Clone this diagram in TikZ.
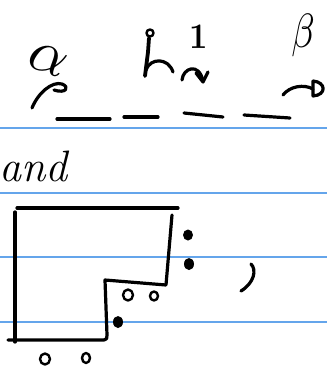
\documentclass[tikz,border=0pt]{standalone}
\definecolor{ruleblue}{RGB}{100,165,235}
\begin{document}
\begin{tikzpicture}[x=1pt,y=-1pt,
  ink/.style={line width=3.2pt,line cap=round,line join=round},
  thinink/.style={line width=2.4pt,line cap=round,line join=round},
  rule/.style={draw=ruleblue,line width=1.3pt},
  hand/.style={inner sep=0pt,outer sep=0pt}]
\useasboundingbox (0,0) rectangle (327,381);
\fill[white] (0,0) rectangle (327,381);
% ruled lines
\foreach \y in {128,193,257,322} \draw[rule] (0,\y) -- (327,\y);
% top row: labels
\node[hand,rotate=-20] (alpha) at (48,60) {\scalebox{6}{$\alpha$}};
\node[hand] (one) at (199,37) {\scalebox{3.2}[3.6]{\bfseries 1}};
\node[hand] (beta) at (303,35) {\scalebox{3.8}[4.8]{$\beta$}};
% dashes
\draw[ink] (57,119) -- (110,119);
\draw[ink] (124,117) -- (158,117);
\draw[ink] (184,113) -- (223,117);
\draw[ink] (244,115) -- (290,118);
% arrow under alpha
\draw[ink] (32,108) .. controls (38,93) and (52,81) .. (62,84) .. controls (70,87) and (66,94) .. (54,90);
% middle: ring with stroke and arc
\draw[thinink] (150,33) circle (3.5);
\draw[ink,line width=3.8pt] (149,38) -- (148,52) -- (145,76);
\draw[ink] (146,70) .. controls (150,58) and (168,57) .. (173,72);
% arrow under 1
\draw[ink] (182,80) .. controls (183,68) and (199,62) .. (203,81);
\draw[ink] (196,73) -- (203,82) -- (208,72);
% arrow under beta
\draw[ink] (283,95) .. controls (290,86) and (304,84) .. (313,89);
\draw[ink] (313,81) -- (313,96) .. controls (327,95) and (326,82) .. (313,81);
% and
\node[hand,anchor=base west,font=\fontsize{44}{44}\selectfont\itshape] (andtext) at (-1,181) {and};
% diagram
\draw[ink] (17,208) -- (178,208);
\draw[ink] (15,212) -- (15,342);
\draw[ink] (8,340) -- (104,340) .. controls (107,340) and (107,338) .. (107,335) -- (105,280) -- (166,285) -- (172,215);
% filled dots
\fill (188,235) ellipse (5 and 5.5);
\fill (189,264) ellipse (5 and 6);
\fill (118,322) ellipse (5 and 6);
% small rings
\draw[thinink] (128,295) ellipse (5 and 5.5);
\draw[thinink] (154,296) ellipse (4 and 4.5);
\draw[thinink] (45,359) ellipse (5 and 5.5);
\draw[thinink] (86,358) ellipse (4 and 5);
% comma-like stroke
\draw[ink] (251,264) .. controls (257,270) and (254,283) .. (241,291);
\end{tikzpicture}
\end{document}
